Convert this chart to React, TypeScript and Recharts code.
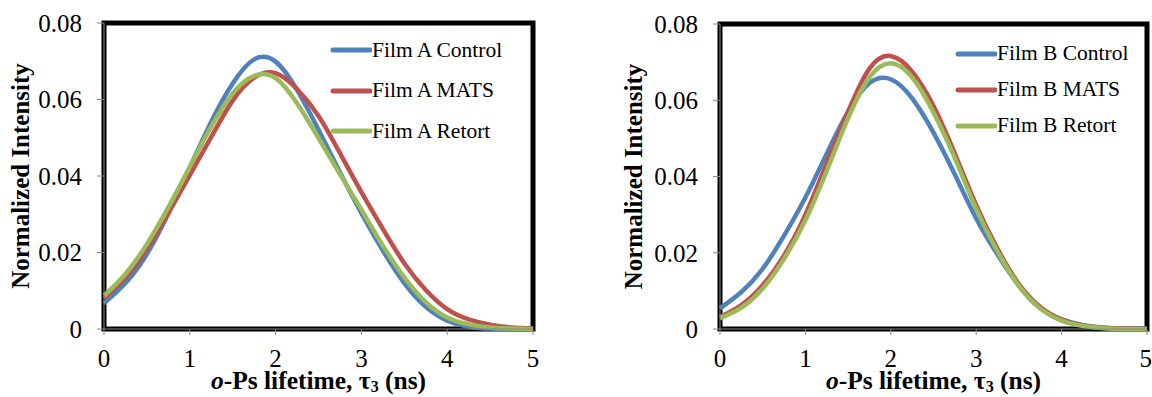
import React from 'react';
import { LineChart, Line, XAxis, YAxis, ReferenceArea, Legend } from 'recharts';

const lifetimes = [0, 0.25, 0.5, 0.75, 1, 1.25, 1.5, 1.75, 2, 2.25, 2.5, 2.75, 3, 3.25, 3.5, 3.75, 4, 4.25, 4.5, 4.75, 5];
const xTicks = [0, 1, 2, 3, 4, 5];
const yTicks = [0, 0.02, 0.04, 0.06, 0.08];

const filmANames = ['Film A Control', 'Film A MATS', 'Film A Retort'];
const filmBNames = ['Film B Control', 'Film B MATS', 'Film B Retort'];
const seriesColors = ['#4F81BD', '#C0504D', '#9BBB59'];

const filmAControl = [0.0067, 0.0120, 0.0196, 0.0302, 0.0422, 0.0542, 0.0642, 0.0705, 0.0699, 0.0625, 0.0521, 0.0410, 0.0303, 0.0205, 0.0120, 0.0058, 0.0022, 0.0006, 0.0001, 0, 0];
const filmAMats = [0.0080, 0.0134, 0.0210, 0.0303, 0.0402, 0.0502, 0.0597, 0.0657, 0.0669, 0.0627, 0.0557, 0.0460, 0.0358, 0.0262, 0.0172, 0.0102, 0.0052, 0.0025, 0.0011, 0.0004, 0.0001];
const filmARetort = [0.0087, 0.0144, 0.0222, 0.0318, 0.0424, 0.0529, 0.0616, 0.0662, 0.0656, 0.0590, 0.0499, 0.0405, 0.0312, 0.0218, 0.0135, 0.0070, 0.0030, 0.0012, 0.0004, 0.0001, 0];

const filmBControl = [0.0054, 0.0097, 0.0158, 0.0245, 0.0345, 0.0460, 0.0570, 0.0645, 0.0655, 0.0605, 0.0515, 0.0405, 0.0290, 0.0195, 0.0113, 0.0055, 0.0025, 0.0010, 0.0003, 0.0001, 0];
const filmBMats = [0.0032, 0.0063, 0.0115, 0.0193, 0.0300, 0.0435, 0.0570, 0.0683, 0.0716, 0.0675, 0.0585, 0.0460, 0.0325, 0.0210, 0.0118, 0.0058, 0.0025, 0.0009, 0.0003, 0.0001, 0];
const filmBRetort = [0.0028, 0.0056, 0.0106, 0.0184, 0.0285, 0.0415, 0.0553, 0.0660, 0.0697, 0.0660, 0.0568, 0.0448, 0.0315, 0.0203, 0.0113, 0.0054, 0.0022, 0.0008, 0.0002, 0, 0];

const FONT = "'Liberation Serif', 'Times New Roman', serif";

const buildRows = (a: number[], b: number[], c: number[]) =>
  lifetimes.map((t, i) => ({ t, s0: a[i], s1: b[i], s2: c[i] }));

const dataA = buildRows(filmAControl, filmAMats, filmARetort);
const dataB = buildRows(filmBControl, filmBMats, filmBRetort);

const makeLegend = (rowH: number) => (props: any) => {
  const payload = props.payload || [];
  return (
    <div style={{ fontFamily: FONT, fontSize: 21.5, color: '#000' }}>
      {payload.map((p: any, i: number) => (
        <div key={i} style={{ height: rowH, display: 'flex', alignItems: 'center', whiteSpace: 'nowrap' }}>
          <svg width={42} height={10} style={{ display: 'block' }}>
            <line x1={3} y1={5} x2={40} y2={5} stroke={p.color} strokeWidth={5} strokeLinecap="round" />
          </svg>
          <span style={{ lineHeight: 1 }}>{p.value}</span>
        </div>
      ))}
    </div>
  );
};

type PanelProps = {
  left: number;
  width: number;
  top: number;
  right: number;
  yAxisWidth: number;
  yTitleX: number;
  data: any[];
  names: string[];
  legendLeft: number;
  legendTop: number;
  legendRowH: number;
};

const Panel = (p: PanelProps) => {
  const yTitle = () => {
    const cy = (p.top + 329) / 2;
    return (
      <text x={p.yTitleX} y={cy} transform={`rotate(-90, ${p.yTitleX}, ${cy})`} textAnchor="middle"
        style={{ fontFamily: FONT }} fontSize={25} fontWeight="bold" fill="#000">
        Normalized Intensity
      </text>
    );
  };
  const xTitle = () => {
    const cx = p.yAxisWidth + (p.width - p.yAxisWidth - p.right) / 2;
    return (
      <text x={cx} y={389} textAnchor="middle" style={{ fontFamily: FONT }} fontSize={25.5} fontWeight="bold" fill="#000">
        <tspan fontStyle="italic">o</tspan>
        <tspan>-Ps lifetime, τ</tspan>
        <tspan fontSize={16} dy={3}>3</tspan>
        <tspan dy={-3}> (ns)</tspan>
      </text>
    );
  };
  return (
    <div style={{ position: 'absolute', left: p.left, top: 0, width: p.width, height: 397 }}>
      <LineChart width={p.width} height={397} data={p.data}
        margin={{ top: p.top, right: p.right, bottom: 0, left: 0 }}>
        <XAxis dataKey="t" type="number" domain={[0, 5]} ticks={xTicks} height={68}
          axisLine={{ stroke: '#888' }} tickLine={{ stroke: '#888' }} tickSize={6} tickMargin={14}
          tick={{ fontFamily: FONT, fontSize: 25, fill: '#000' }} label={xTitle} />
        <YAxis type="number" domain={[0, 0.08]} ticks={yTicks} width={p.yAxisWidth}
          axisLine={{ stroke: '#888' }} tickLine={{ stroke: '#888' }} tickSize={7} tickMargin={15}
          tickFormatter={(v: number) => (v === 0 ? '0' : v.toFixed(2))}
          tick={{ fontFamily: FONT, fontSize: 25, fill: '#000' }} label={yTitle} />
        <ReferenceArea x1={0} x2={5} y1={0} y2={0.08} fill="none" fillOpacity={0} stroke="#000" strokeWidth={5} ifOverflow="visible" />
        {p.names.map((n, i) => (
          <Line key={n} type="natural" dataKey={`s${i}`} name={n} stroke={seriesColors[i]} strokeWidth={4.5}
            dot={false} activeDot={false} isAnimationActive={false} />
        ))}
        <Legend layout="horizontal" verticalAlign="middle" align="center" content={makeLegend(p.legendRowH)}
          wrapperStyle={{ left: p.legendLeft, top: p.legendTop, width: 220, height: 'auto' }} />
      </LineChart>
    </div>
  );
}

export default function App() {
  return (
    <div style={{ position: 'absolute', left: 0, top: 0, width: 1152, height: 397, background: '#fff' }}>
      <Panel left={0} width={560} top={23} right={27} yAxisWidth={104} yTitleX={29} data={dataA}
        names={filmANames} legendLeft={330} legendTop={30} legendRowH={40.5} />
      <Panel left={600} width={552} top={24} right={5} yAxisWidth={120} yTitleX={42} data={dataB}
        names={filmBNames} legendLeft={355} legendTop={36} legendRowH={36} />
    </div>
  );
}
